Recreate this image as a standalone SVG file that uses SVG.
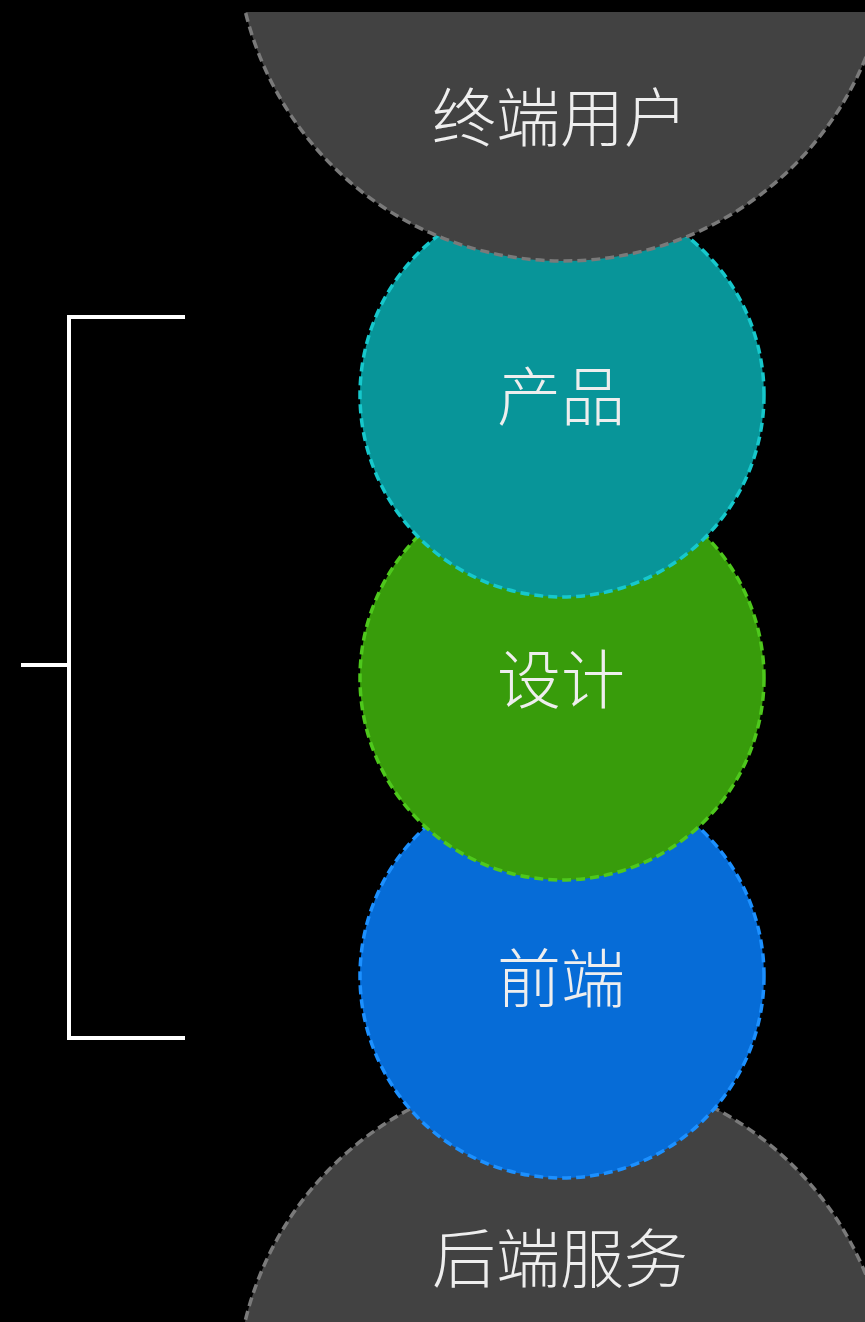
<svg xmlns="http://www.w3.org/2000/svg" width="865" height="1322" viewBox="0 0 865 1322">
<defs>
<style>
.lbl{font-family:"Noto Sans CJK SC","Noto Sans",sans-serif;font-size:64px;font-weight:300;fill:#eeeeee;text-anchor:middle}
.c{stroke-width:3.5;stroke-dasharray:9 5}
.gray{fill:#424242;stroke:#7a7a7a}
.teal{fill:#089599;stroke:#16c8cc}
.green{fill:#389c0b;stroke:#4ec81c}
.blue{fill:#066cd7;stroke:#1c90ff}
.br{stroke:#ffffff;stroke-width:4;fill:none;stroke-linecap:butt}
</style>
<clipPath id="frame"><rect x="0" y="12" width="865" height="1310"/></clipPath>
</defs>
<rect x="0" y="0" width="865" height="1322" fill="#000000"/>
<g clip-path="url(#frame)">
<g id="backend">
<circle class="c gray" cx="563" cy="1398" r="327"/>
<text class="lbl" x="560" y="1282">后端服务</text>
</g>
<g id="frontend">
<circle class="c blue" cx="562" cy="976" r="202"/>
<text class="lbl" x="561" y="1002">前端</text>
</g>
<g id="design">
<circle class="c green" cx="562" cy="678" r="202"/>
<text class="lbl" x="561" y="703">设计</text>
</g>
<g id="product">
<circle class="c teal" cx="562" cy="395" r="202"/>
<text class="lbl" x="561" y="420">产品</text>
</g>
<g id="enduser">
<circle class="c gray" cx="563" cy="-66" r="327"/>
<text class="lbl" x="560" y="141">终端用户</text>
</g>
</g>
<g id="connectors">
<path class="br" d="M185 317 H69 V1038 H185"/>
<path class="br" d="M21 665 H69"/>
</g>
</svg>
